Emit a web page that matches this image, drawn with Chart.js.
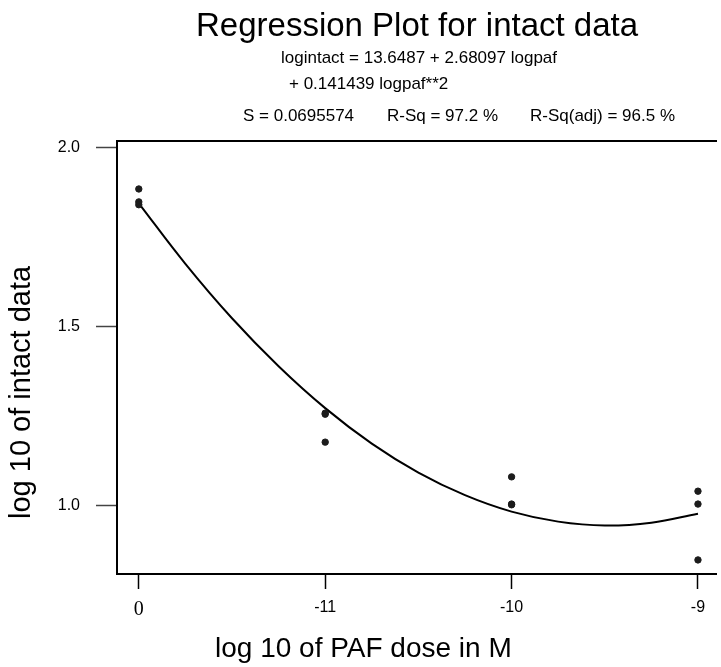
<!DOCTYPE html>
<html lang="en">
<head>
  <meta charset="UTF-8" />
  <title>Regression Plot for intact data</title>
  <script src="https://cdn.jsdelivr.net/npm/chart.js"></script>
  <style>
    body {
      margin: 0;
      background: #ffffff;
    }
  </style>
</head>
<body>
  <canvas id="regChart" width="721" height="667"></canvas>

  <script>
    // observed points (log dose, -12 is the zero-dose group shown as "0")
    const doseX = [-12, -12, -12, -11, -11, -11, -10, -10, -10, -9, -9, -9];
    const logIntact = [1.884, 1.848, 1.840, 1.258, 1.255, 1.177, 1.080, 1.004, 1.002, 1.040, 1.004, 0.848];

    // fitted curve
    const fitX = [-12, -11.75, -11.5, -11.25, -11, -10.75, -10.5, -10.25, -10, -9.75, -9.5, -9.25, -9];
    const fitY = [1.844, 1.675, 1.523, 1.389, 1.272, 1.173, 1.092, 1.029, 0.983, 0.955, 0.944, 0.952, 0.977];

    const xTicks = [-12, -11, -10, -9];
    const xLabels = ['0', '-11', '-10', '-9'];
    const yTicks = [1.0, 1.5, 2.0];

    const titleText = 'Regression Plot for intact data';
    const eqLine1 = 'logintact = 13.6487 + 2.68097 logpaf';
    const eqLine2 = '+ 0.141439 logpaf**2';
    const statS = 'S = 0.0695574';
    const statR = 'R-Sq = 97.2 %';
    const statRadj = 'R-Sq(adj) = 96.5 %';
    const xTitle = 'log 10 of PAF dose in M';
    const yTitle = 'log 10 of intact data';

    const SANS = '"Liberation Sans", Arial, sans-serif';
    const SERIF = '"Liberation Serif", "Times New Roman", serif';

    // header and axis titles placed where the original puts them
    const textPlugin = {
      id: 'texts',
      afterDraw(chart) {
        const ctx = chart.ctx;
        ctx.save();
        ctx.fillStyle = '#000';
        ctx.textAlign = 'left';
        ctx.textBaseline = 'alphabetic';

        ctx.font = '33px ' + SANS;
        ctx.fillText(titleText, 196, 36);

        ctx.font = '17px ' + SANS;
        ctx.fillText(eqLine1, 281, 63);
        ctx.fillText(eqLine2, 289, 89);
        ctx.fillText(statS, 243, 121);
        ctx.fillText(statR, 387, 121);
        ctx.fillText(statRadj, 530, 121);

        ctx.font = '28px ' + SANS;
        ctx.fillText(xTitle, 215, 657);

        ctx.translate(30, 519);
        ctx.rotate(-Math.PI / 2);
        ctx.font = '29px ' + SANS;
        ctx.fillText(yTitle, 0, 0);
        ctx.restore();
      }
    };

    const ctx = document.getElementById('regChart').getContext('2d');
    new Chart(ctx, {
      type: 'scatter',
      data: {
        datasets: [
          {
            label: 'intact',
            data: doseX.map((x, i) => ({ x: x, y: logIntact[i] })),
            backgroundColor: '#1c1c1c',
            borderColor: '#1c1c1c',
            pointRadius: 3.2,
            pointHoverRadius: 3.2
          },
          {
            label: 'fit',
            type: 'line',
            data: fitX.map((x, i) => ({ x: x, y: fitY[i] })),
            borderColor: '#000',
            borderWidth: 2,
            pointRadius: 0,
            tension: 0.4,
            fill: false
          }
        ]
      },
      options: {
        responsive: false,
        animation: false,
        devicePixelRatio: 1,
        layout: {
          padding: { top: 141, left: 0, right: 0, bottom: 0 }
        },
        plugins: {
          legend: { display: false },
          tooltip: { enabled: false }
        },
        scales: {
          x: {
            type: 'linear',
            position: 'bottom',
            min: -12.117,
            max: -8.899,
            afterBuildTicks: (scale) => {
              scale.ticks = xTicks.map(v => ({ value: v }));
            },
            afterFit: (scale) => { scale.height = 93; },
            ticks: {
              padding: 9,
              color: '#000',
              maxRotation: 0,
              autoSkip: false,
              callback: (value, index) => xLabels[index],
              font: (c) => (c.tick && c.tick.value === -12)
                ? { family: SERIF, size: 20 }
                : { family: SANS, size: 16 }
            },
            grid: {
              drawOnChartArea: false,
              drawTicks: true,
              tickLength: 15,
              tickWidth: 1.5,
              tickColor: '#000'
            },
            border: { display: true, color: '#000', width: 2 }
          },
          xTop: {
            type: 'linear',
            position: 'top',
            min: 0,
            max: 1,
            afterFit: (scale) => { scale.height = 0; },
            ticks: { display: false },
            grid: { drawOnChartArea: false, drawTicks: false },
            border: { display: true, color: '#000', width: 2 }
          },
          y: {
            type: 'linear',
            position: 'left',
            min: 0.8087,
            max: 2.018,
            afterBuildTicks: (scale) => {
              scale.ticks = yTicks.map(v => ({ value: v }));
            },
            afterFit: (scale) => { scale.width = 117; },
            ticks: {
              padding: 16,
              color: '#000',
              font: { family: SANS, size: 16 },
              callback: (value) => value.toFixed(1)
            },
            grid: {
              drawOnChartArea: false,
              drawTicks: true,
              tickLength: 21,
              tickWidth: 1.5,
              tickColor: '#444'
            },
            border: { display: true, color: '#000', width: 2 }
          }
        }
      },
      plugins: [textPlugin]
    });
  </script>
</body>
</html>
